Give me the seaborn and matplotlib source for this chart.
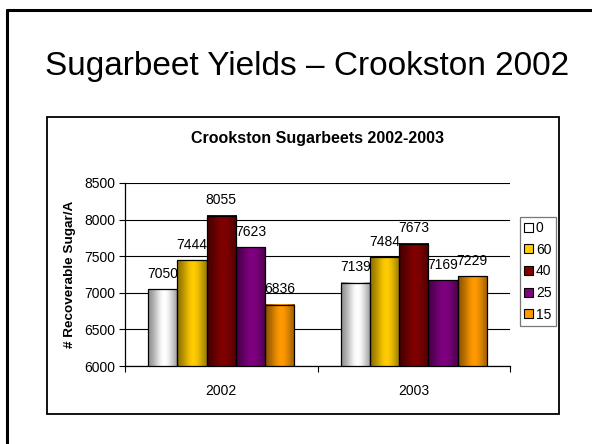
import numpy as np
import pandas as pd
import matplotlib
matplotlib.use("Agg")
import matplotlib.pyplot as plt
from matplotlib.patches import Patch, Rectangle
from matplotlib.lines import Line2D
import matplotlib.colors as mcolors
import seaborn as sns

# Yield data (recoverable sugar per acre) by treatment and year
years = ["2002", "2003"]
treatments = ["0", "60", "40", "25", "15"]
yield_2002 = [7050, 7444, 8055, 7623, 6836]
yield_2003 = [7139, 7484, 7673, 7169, 7229]
bar_colors = ["#FFFFFF", "#FFCC00", "#800000", "#800080", "#FF9900"]

rows = []
for yr, vals in zip(years, [yield_2002, yield_2003]):
    for t, v in zip(treatments, vals):
        rows.append({"Year": yr, "Treatment": t, "Yield": v})
df = pd.DataFrame(rows)

sns.set_theme(style="white")
plt.rcParams["font.family"] = ["Liberation Sans", "DejaVu Sans"]
plt.rcParams["text.color"] = "black"
plt.rcParams["axes.labelcolor"] = "black"

W, H = 592, 444
fig = plt.figure(figsize=(W / 100, H / 100), dpi=100)
fig.patch.set_facecolor("white")

def px(x0, y0, x1, y1):
    return [x0 / W, 1 - y1 / H, (x1 - x0) / W, (y1 - y0) / H]

# Slide frame (top and left edges visible)
fig.add_artist(Line2D([7 / W, 7 / W], [0, 1 - 10 / H], color="black", lw=2.2,
                      transform=fig.transFigure))
fig.add_artist(Line2D([7 / W, 1], [1 - 10 / H, 1 - 10 / H], color="black", lw=2.2,
                      transform=fig.transFigure))

# Slide heading
fig.text(307 / W, 1 - 66 / H, "Sugarbeet Yields \u2013 Crookston 2002",
         ha="center", va="center", fontsize=24, color="black")

# Chart box
fig.add_artist(Rectangle((47 / W, 1 - 414 / H), (559 - 47) / W, (414 - 117) / H,
                         transform=fig.transFigure, fill=False,
                         edgecolor="black", lw=1.3))

ax = fig.add_axes(px(125, 183, 510, 366))
sns.barplot(data=df, x="Year", y="Yield", hue="Treatment",
            hue_order=treatments, palette=bar_colors, order=years,
            width=0.76, gap=0, ax=ax, legend=False, errorbar=None,
            edgecolor="black", linewidth=0.9, saturation=1)

ymin, ymax = 6000, 8500
ax.set_ylim(ymin, ymax)
ax.set_xlim(-0.5, 1.5)
ax.set_yticks(np.arange(ymin, ymax + 1, 500))
ax.set_xticks([0, 1])
ax.set_xticklabels(years)
ax.set_xticks([-0.5, 0.5, 1.5], minor=True)
ax.tick_params(axis="x", which="major", length=0, pad=13, labelsize=10, colors="black")
ax.tick_params(axis="x", which="minor", length=4, width=0.8, color="black", bottom=True)
ax.tick_params(axis="y", length=4, width=0.8, color="black", left=True, pad=3,
               labelsize=10, labelcolor="black")
ax.yaxis.grid(True, color="black", lw=0.8)
ax.set_axisbelow(True)
for s in ["top", "right"]:
    ax.spines[s].set_visible(False)
for s in ["left", "bottom"]:
    ax.spines[s].set_color("black")
    ax.spines[s].set_linewidth(0.9)
ax.set_xlabel("")
ax.set_ylabel("# Recoverable Sugar/A", fontsize=9.7, fontweight="bold", labelpad=6,
              color="black")
ax.set_title("Crookston Sugarbeets 2002-2003", fontsize=11.5, fontweight="bold", pad=29,
             color="black")

# Cylinder-like horizontal shading on each bar
t = np.linspace(0, 1, 64)
shade = np.exp(-((t - 0.55) / 0.38) ** 2)
for patch in ax.patches:
    x0 = patch.get_x()
    w, h = patch.get_width(), patch.get_height()
    base = np.array(mcolors.to_rgb(patch.get_facecolor()))
    dark = 0.5 * (1 - shade)
    img = np.clip(base[None, :] * (1 - dark[:, None]), 0, 1)[None, :, :]
    ax.imshow(img, extent=[x0, x0 + w, ymin, h], aspect="auto",
              origin="lower", zorder=2, interpolation="bilinear")
    patch.set_facecolor("none")
    patch.set_zorder(3)
ax.set_xlim(-0.5, 1.5)
ax.set_ylim(ymin, ymax)

for cont in ax.containers:
    ax.bar_label(cont, fmt="%d", padding=6, fontsize=10, color="black")

# Legend
handles = [Patch(facecolor=c, edgecolor="black", lw=0.8) for c in bar_colors]
leg = fig.legend(handles, treatments, loc="upper left",
                 bbox_to_anchor=(520 / W, 1 - 217 / H), frameon=True,
                 fancybox=False, fontsize=10, handlelength=0.6, handleheight=0.6,
                 handletextpad=0.25, labelspacing=0.55, borderpad=0.3,
                 borderaxespad=0)
leg.get_frame().set_edgecolor("#555555")
leg.get_frame().set_linewidth(0.9)
for txt in leg.get_texts():
    txt.set_color("black")

fig.savefig("out.png", dpi=100, facecolor="white")
